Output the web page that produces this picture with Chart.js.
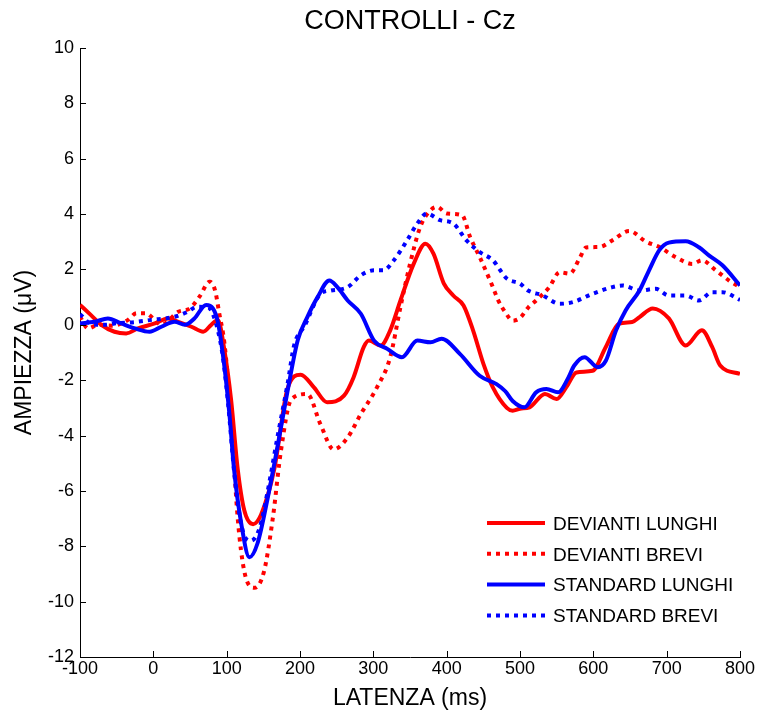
<!DOCTYPE html>
<html>
<head>
<meta charset="utf-8">
<script src="https://cdn.jsdelivr.net/npm/chart.js@4.4.1/dist/chart.umd.min.js"></script>
<style>
  body { margin: 0; background: #fff; }
  canvas { display: block; }
</style>
</head>
<body>
<canvas id="erp" width="762" height="718"></canvas>
<script>
// latency (ms) / amplitude (uV), one pair per curve
const devLunghiT = [-100, -85, -71, -53, -37, -21, 2, 20, 34, 52, 68, 79, 88, 97, 106, 115, 124, 136, 147, 165, 183, 201, 219, 237, 260, 273, 287, 294, 310, 323, 337, 355, 371, 382, 396, 409, 423, 436, 450, 463, 482, 490, 500, 513, 534, 550, 563, 577, 599, 617, 635, 653, 663, 681, 703, 726, 748, 762, 773, 800];
const devLunghiV = [0.72, 0.35, 0.0, -0.25, -0.31, -0.13, 0.05, 0.23, 0.11, -0.07, -0.25, 0.0, 0.17, -0.93, -2.7, -5.2, -6.7, -7.2, -6.85, -5.2, -2.3, -1.8, -2.26, -2.8, -2.56, -1.9, -0.8, -0.57, -0.75, -0.2, 0.88, 2.2, 2.93, 2.57, 1.5, 1.06, 0.7, -0.2, -1.4, -2.26, -3.0, -3.1, -3.03, -2.98, -2.5, -2.68, -2.26, -1.72, -1.66, -0.8, 0.04, 0.1, 0.28, 0.59, 0.23, -0.75, -0.2, -0.8, -1.47, -1.77];

const devBreviT = [-100, -89, -75, -55, -35, -23, -10, 2, 11, 34, 50, 63, 77, 84, 90, 97, 106, 115, 124, 138, 151, 163, 174, 188, 210, 228, 246, 265, 283, 305, 323, 337, 350, 364, 378, 387, 400, 421, 432, 445, 463, 470, 480, 490, 500, 512, 522, 540, 554, 568, 581, 590, 608, 626, 649, 672, 690, 712, 735, 748, 767, 785, 800];
const devBreviV = [0.3, -0.13, 0.0, -0.03, 0.17, 0.42, 0.42, 0.17, 0.0, 0.47, 0.6, 1.02, 1.56, 1.26, 0.4, -0.68, -3.35, -6.97, -8.9, -9.5, -8.9, -6.97, -4.55, -2.7, -2.5, -3.6, -4.5, -4.07, -3.22, -2.26, -1.17, 0.64, 2.2, 3.54, 4.14, 4.26, 4.02, 3.96, 3.17, 2.45, 1.36, 0.9, 0.45, 0.15, 0.25, 0.65, 0.88, 1.36, 1.9, 1.85, 2.39, 2.79, 2.81, 3.05, 3.39, 3.0, 2.81, 2.45, 2.2, 2.33, 1.97, 1.6, 1.36];

const stdLunghiT = [-100, -80, -62, -44, -25, -5, 11, 29, 43, 56, 72, 81, 88, 97, 104, 110, 120, 131, 142, 156, 170, 183, 197, 210, 224, 240, 251, 265, 283, 301, 319, 339, 360, 378, 393, 418, 445, 468, 480, 490, 506, 522, 536, 552, 565, 574, 588, 606, 617, 631, 644, 663, 676, 690, 703, 726, 744, 758, 776, 800];
const stdLunghiV = [0.05, 0.11, 0.23, 0.05, -0.13, -0.25, -0.07, 0.11, 0.0, 0.23, 0.72, 0.6, 0.1, -1.53, -3.3, -5.2, -7.2, -8.4, -7.9, -6.25, -4.3, -2.4, -0.55, 0.28, 1.0, 1.6, 1.36, 0.88, 0.4, -0.57, -0.87, -1.17, -0.57, -0.63, -0.5, -1.05, -1.84, -2.14, -2.4, -2.75, -2.98, -2.44, -2.32, -2.44, -1.96, -1.47, -1.17, -1.53, -1.3, -0.2, 0.52, 1.24, 1.97, 2.7, 2.97, 3.02, 2.8, 2.5, 2.15, 1.42];

const stdBreviT = [-100, -82, -66, -53, -25, -5, 29, 47, 59, 75, 88, 95, 102, 111, 122, 133, 145, 156, 170, 183, 192, 206, 228, 242, 265, 283, 301, 314, 328, 346, 360, 373, 391, 409, 427, 445, 463, 482, 500, 511, 531, 554, 572, 599, 626, 640, 663, 685, 703, 726, 744, 762, 776, 800];
const stdBreviV = [0.38, 0.0, 0.0, 0.05, 0.1, 0.17, 0.29, 0.47, 0.65, 0.62, -0.2, -1.2, -2.86, -5.52, -7.45, -7.8, -7.33, -6.0, -3.95, -2.14, -0.74, -0.05, 1.12, 1.24, 1.36, 1.79, 1.97, 1.97, 2.33, 3.05, 3.66, 4.02, 3.78, 3.66, 3.05, 2.63, 2.33, 1.67, 1.49, 1.24, 1.06, 0.76, 0.82, 1.12, 1.36, 1.42, 1.24, 1.3, 1.06, 1.06, 0.88, 1.18, 1.18, 0.9];

const seriesNames = ['DEVIANTI LUNGHI', 'DEVIANTI BREVI', 'STANDARD LUNGHI', 'STANDARD BREVI'];
const xTicks = [-100, 0, 100, 200, 300, 400, 500, 600, 700, 800];
const yTicks = [-12, -10, -8, -6, -4, -2, 0, 2, 4, 6, 8, 10];
const chartTitle = 'CONTROLLI - Cz';

const FONT = "'Liberation Sans', Arial, sans-serif";

function pts(t, v) {
  return t.map((x, i) => ({ x: x, y: v[i] }));
}

function line(label, data, color, dash, order) {
  return {
    label: label,
    data: data,
    borderColor: color,
    backgroundColor: color,
    borderWidth: 4,
    borderDash: dash,
    borderCapStyle: 'butt',
    pointRadius: 0,
    fill: false,
    cubicInterpolationMode: 'monotone',
    order: order
  };
}

// MATLAB-style inward ticks on the left and bottom axes
const inwardTicks = {
  id: 'inwardTicks',
  afterDatasetsDraw(chart) {
    const ctx = chart.ctx;
    const xs = chart.scales.x, ys = chart.scales.y;
    const a = chart.chartArea;
    ctx.save();
    ctx.strokeStyle = '#000';
    ctx.lineWidth = 1;
    ctx.beginPath();
    xTicks.forEach(v => {
      const px = Math.round(xs.getPixelForValue(v)) + 0.5;
      ctx.moveTo(px, a.bottom);
      ctx.lineTo(px, a.bottom - 6);
    });
    yTicks.forEach(v => {
      const py = Math.round(ys.getPixelForValue(v)) + 0.5;
      ctx.moveTo(a.left, py);
      ctx.lineTo(a.left + 6, py);
    });
    ctx.stroke();
    ctx.restore();
  }
};

// title centred over the plot area, legend inside the plot (lower right)
const titleAndLegend = {
  id: 'titleAndLegend',
  afterDraw(chart) {
    const ctx = chart.ctx;
    const a = chart.chartArea;
    ctx.save();
    ctx.fillStyle = '#000';
    ctx.font = '27px ' + FONT;
    ctx.textAlign = 'center';
    ctx.textBaseline = 'middle';
    ctx.fillText(chartTitle, (a.left + a.right) / 2, 22);

    const x0 = a.right - 253, x1 = a.right - 195, tx = a.right - 187;
    ctx.textAlign = 'left';
    ctx.font = '19px ' + FONT;
    chart.data.datasets.forEach((ds, i) => {
      const y = a.bottom - 134 + i * 30.8;
      ctx.strokeStyle = ds.borderColor;
      ctx.lineWidth = ds.borderWidth;
      ctx.setLineDash(ds.borderDash);
      ctx.beginPath();
      ctx.moveTo(x0, y);
      ctx.lineTo(x1, y);
      ctx.stroke();
      ctx.setLineDash([]);
      ctx.fillText(ds.label, tx, y + 1.5);
    });
    ctx.restore();
  }
};

new Chart(document.getElementById('erp'), {
  type: 'line',
  data: {
    datasets: [
      line(seriesNames[0], pts(devLunghiT, devLunghiV), '#ff0000', [], 4),
      line(seriesNames[1], pts(devBreviT, devBreviV), '#ff0000', [4, 5], 3),
      line(seriesNames[2], pts(stdLunghiT, stdLunghiV), '#0000ff', [], 2),
      line(seriesNames[3], pts(stdBreviT, stdBreviV), '#0000ff', [4, 5], 1)
    ]
  },
  options: {
    responsive: false,
    animation: false,
    layout: { padding: { left: 0, right: 22, top: 48, bottom: 0 } },
    plugins: {
      legend: { display: false },
      tooltip: { enabled: false },
      title: { display: false }
    },
    scales: {
      x: {
        type: 'linear',
        min: -100,
        max: 800,
        afterFit: s => { s.height = 61; },
        afterBuildTicks: s => { s.ticks = xTicks.map(v => ({ value: v })); },
        grid: { drawOnChartArea: false, drawTicks: false },
        border: { display: true, color: '#000', width: 1 },
        ticks: { color: '#000', padding: 1, maxRotation: 0, font: { family: FONT, size: 18 } },
        title: {
          display: true,
          text: 'LATENZA (ms)',
          color: '#000',
          font: { family: FONT, size: 23 },
          padding: { top: 0, bottom: 6 }
        }
      },
      y: {
        min: -12,
        max: 10,
        afterFit: s => { s.width = 80; },
        afterBuildTicks: s => { s.ticks = yTicks.map(v => ({ value: v })); },
        grid: { drawOnChartArea: false, drawTicks: false },
        border: { display: true, color: '#000', width: 1 },
        ticks: { color: '#000', padding: 6, font: { family: FONT, size: 18 } },
        title: {
          display: true,
          text: 'AMPIEZZA (\u03bcV)',
          color: '#000',
          font: { family: FONT, size: 23 },
          padding: { top: 11, bottom: 0 }
        }
      }
    }
  },
  plugins: [inwardTicks, titleAndLegend]
});
</script>
</body>
</html>
